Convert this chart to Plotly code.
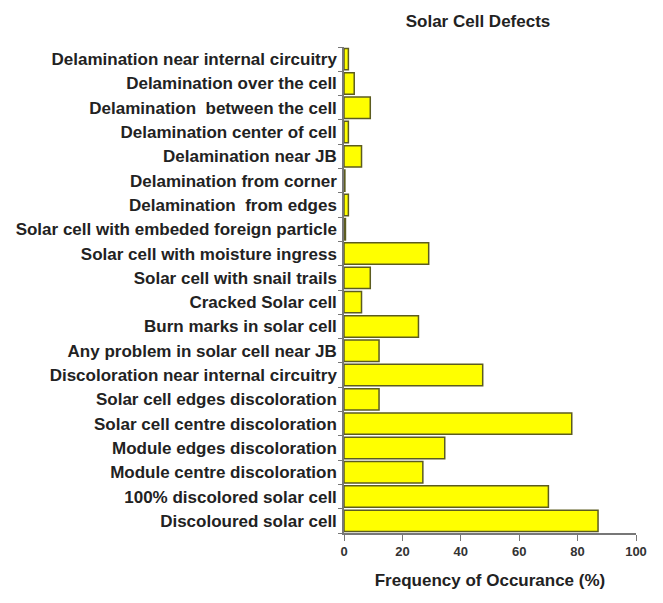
import plotly.graph_objects as go

categories = [
    "Discoloured solar cell",
    "100% discolored solar cell",
    "Module centre discoloration",
    "Module edges discoloration",
    "Solar cell centre discoloration",
    "Solar cell edges discoloration",
    "Discoloration near internal circuitry",
    "Any problem in solar cell near JB",
    "Burn marks in solar cell",
    "Cracked Solar cell",
    "Solar cell with snail trails",
    "Solar cell with moisture ingress",
    "Solar cell with embeded foreign particle",
    "Delamination  from edges",
    "Delamination from corner",
    "Delamination near JB",
    "Delamination center of cell",
    "Delamination  between the cell",
    "Delamination over the cell",
    "Delamination near internal circuitry",
]
values = [87, 70, 27, 34.5, 78, 12, 47.5, 12, 25.5, 6, 9, 29, 0.5, 1.5, 0.3, 6, 1.5, 9, 3.5, 1.5]
x_ticks = [0, 20, 40, 60, 80, 100]

W, H = 655, 595

fig = go.Figure(go.Bar(
    x=values, y=categories, orientation="h",
    marker=dict(color="#ffff00", line=dict(color="#5c5c20", width=1.5)),
))
fig.update_layout(
    width=W, height=H,
    margin=dict(l=336, r=27, t=39, b=70),
    paper_bgcolor="white", plot_bgcolor="white",
    bargap=0.12,
    showlegend=False,
    font=dict(family="Liberation Sans", color="#222"),
    title=dict(text="<b>Solar Cell Defects</b>", x=470 / W, xanchor="center",
               y=1 - 13 / H, yanchor="middle", font=dict(size=17, color="#222")),
)
fig.update_xaxes(
    range=[0, 100], tickvals=x_ticks, ticktext=["<b>%d</b>" % v for v in x_ticks],
    showgrid=False, zeroline=False, showline=True, linecolor="#777", linewidth=1.5,
    ticks="outside", ticklen=6, tickcolor="#777", automargin=False,
    tickfont=dict(size=13, color="#333", family="Liberation Sans"),
    title=dict(text="<b>Frequency of Occurance (%)</b>", font=dict(size=17, color="#222"), standoff=16),
)
fig.update_yaxes(
    categoryorder="array", categoryarray=categories,
    showgrid=False, showline=True, linecolor="#777", linewidth=1.5,
    ticks="outside", ticklen=4, tickcolor="#777", tickson="boundaries",
    ticklabelstandoff=2, automargin=False,
    tickfont=dict(size=17, color="#222", family="Liberation Sans"),
    tickprefix="<b>", ticksuffix="</b>",
)
fig.write_html("out.html")
